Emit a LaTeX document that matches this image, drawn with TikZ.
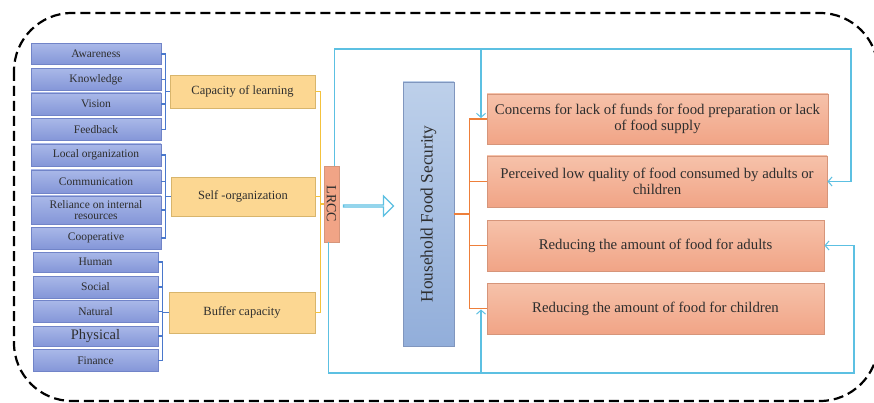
\documentclass[tikz,border=0pt]{standalone}
\usepackage{fontspec}
\setmainfont{Liberation Serif}
\usetikzlibrary{arrows.meta,shapes.arrows}
\definecolor{lbdraw}{HTML}{7184C8}
\definecolor{lbtop}{HTML}{A9B8E8}
\definecolor{lbbot}{HTML}{8496D8}
\definecolor{ybfill}{HTML}{FCD792}
\definecolor{ybdraw}{HTML}{D8B56C}
\definecolor{obtop}{HTML}{F6C2AA}
\definecolor{obbot}{HTML}{F1A486}
\definecolor{obdraw}{HTML}{D6957A}
\definecolor{hftop}{HTML}{BDD0EA}
\definecolor{hfbot}{HTML}{92AEDA}
\definecolor{hfdraw}{HTML}{8096BE}
\definecolor{brline}{HTML}{4A78CC}
\definecolor{yline}{HTML}{F4C23C}
\definecolor{oline}{HTML}{EE7F3A}
\definecolor{cline}{HTML}{5CC0E2}
\definecolor{txt}{HTML}{2E2E2E}
\tikzset{
  lbox/.style={draw=lbdraw, line width=0.8pt, top color=lbtop, bottom color=lbbot, text=txt,
    minimum width=130, inner sep=0pt, align=center, font=\fontsize{11.5}{11}\selectfont},
  ybox/.style={draw=ybdraw, line width=0.8pt, fill=ybfill, text=txt,
    minimum width=145, inner sep=0pt, align=center, font=\fontsize{12.5}{14}\selectfont},
  obox/.style={draw=obdraw, line width=0.8pt, top color=obtop, bottom color=obbot, text=txt,
    inner sep=0pt, align=center, font=\fontsize{14.8}{16.5}\selectfont},
  brk/.style={draw=brline, line width=1.1pt},
  ylw/.style={draw=yline, line width=1.3pt},
  org/.style={draw=oline, line width=1.5pt},
  cyn/.style={draw=cline, line width=1.2pt},
  cyarr/.style={cyn, -{Straight Barb[length=4pt,width=9pt,line width=1pt]}},
}
\begin{document}
\begin{tikzpicture}[x=1pt,y=-1pt]
\useasboundingbox (0,0) rectangle (874,403);
\fill[white] (0,0) rectangle (874,403);
% dashed frame
\draw[line width=2.2pt, dash pattern=on 10pt off 5pt, rounded corners=58] (14,13) rectangle (878,401);

% left blue boxes
\node[lbox, minimum height=21] (a1) at (96,54) {Awareness};
\node[lbox, minimum height=22] (a2) at (96,79.5) {Knowledge};
\node[lbox, minimum height=22] (a3) at (96,104) {Vision};
\node[lbox, minimum height=22] (a4) at (96,129.5) {Feedback};
\node[lbox, minimum height=22] (b1) at (96,155) {Local organization};
\node[lbox, minimum height=23] (b2) at (96,181.5) {Communication};
\node[lbox, minimum height=28, font=\fontsize{11.5}{10.5}\selectfont] (b3) at (96,210) {Reliance on internal\\resources};
\node[lbox, minimum height=22] (b4) at (96,238) {Cooperative};
\node[lbox, minimum width=125, minimum height=20] (c1) at (95.5,262) {Human};
\node[lbox, minimum width=125, minimum height=22] (c2) at (95.5,287) {Social};
\node[lbox, minimum width=125, minimum height=22] (c3) at (95.5,311.5) {Natural};
\node[lbox, minimum width=125, minimum height=20, font=\fontsize{14.5}{14}\selectfont] (c4) at (95.5,336) {Physical};
\node[lbox, minimum width=125, minimum height=22] (c5) at (95.5,360.5) {Finance};

% yellow boxes
\node[ybox, minimum height=33] (cl) at (242.5,91.5) {Capacity of learning};
\node[ybox, minimum width=144, minimum height=39] (so) at (243,196.5) {Self -organization};
\node[ybox, minimum width=146, minimum height=41] (bc) at (242,312.5) {Buffer capacity};

% LRCC
\node[draw=obdraw, line width=0.8pt, fill=obbot, minimum width=15, minimum height=76, inner sep=0pt] (lr) at (331.5,204) {};
\node[rotate=-90, text=txt, font=\fontsize{14}{14}\selectfont] (lrt) at (lr.center) {LRCC};

% Household food security
\node[draw=hfdraw, line width=0.8pt, top color=hftop, bottom color=hfbot, minimum width=51, minimum height=264, inner sep=0pt] (hf) at (428.5,214) {};
\node[rotate=90, text=txt, font=\fontsize{17.3}{17}\selectfont] (hft) at (hf.center) {Household Food Security};

% hollow arrow
\node[single arrow, draw=cline, fill=white, line width=1.2pt, minimum width=20, minimum height=50,
  single arrow head extend=5, single arrow head indent=0pt, inner sep=0pt] (ha) at (368,206) {};

% right orange boxes
\node[obox, minimum width=341, minimum height=50] (co) at (657.5,119) {Concerns for lack of funds for food preparation or lack\\of food supply};
\node[obox, minimum width=340, minimum height=51] (pe) at (657,181.5) {Perceived low quality of food consumed by adults or\\children};
\node[obox, minimum width=337, minimum height=51] (ad) at (655.5,245.5) {Reducing the amount of food for adults};
\node[obox, minimum width=337, minimum height=51] (ch) at (655.5,308.5) {Reducing the amount of food for children};

% blue brackets
\draw[brk] (a1.east) -- ++(4,0) |- (a4.east);
\draw[brk] (a2.east) -- ++(4,0);
\draw[brk] (a3.east) -- ++(4,0);
\draw[brk] (cl.west) -- ++(-5,0);
\draw[brk] (b1.east) -- ++(4,0) |- (b4.east);
\draw[brk] (b2.east) -- ++(4,0);
\draw[brk] (b3.east) -- ++(4,0);
\draw[brk] (so.west) -- ++(-6,0);
\draw[brk] (c1.east) -- ++(4,0) |- (c5.east);
\draw[brk] (c2.east) -- ++(4,0);
\draw[brk] (c3.east) -- ++(4,0);
\draw[brk] (c4.east) -- ++(4,0);
\draw[brk] (bc.west) -- ++(-7,0);

% yellow connectors
\draw[ylw] (cl.east) -- ++(5,0) |- (bc.east);
\draw[ylw] (so.east) -- ++(5,0);
\draw[ylw] (lr.west) -- ++(-4,0);

% orange connectors
\draw[org] (co.west) -- ++(-17,0) |- (ch.west);
\draw[org] (pe.west) -- ++(-17,0);
\draw[org] (ad.west) -- ++(-17,0);
\draw[org] (hf.east) -- ++(16,0);

% cyan feedback loops
\coordinate (tr) at (851,49);
\coordinate (br) at (854,373);
\coordinate (j1) at (481,49);
\coordinate (j2) at (481,373);
\draw[cyarr] ([xshift=3]lr.north) |- (tr) |- (pe.east);
\draw[cyarr] (j1) -- ([yshift=1]j1 |- co.west);
\draw[cyarr] ([xshift=-3]lr.south) |- (br) |- (ad.east);
\draw[cyarr] (j2) -- ([yshift=-1]j2 |- ch.west);
\end{tikzpicture}
\end{document}
